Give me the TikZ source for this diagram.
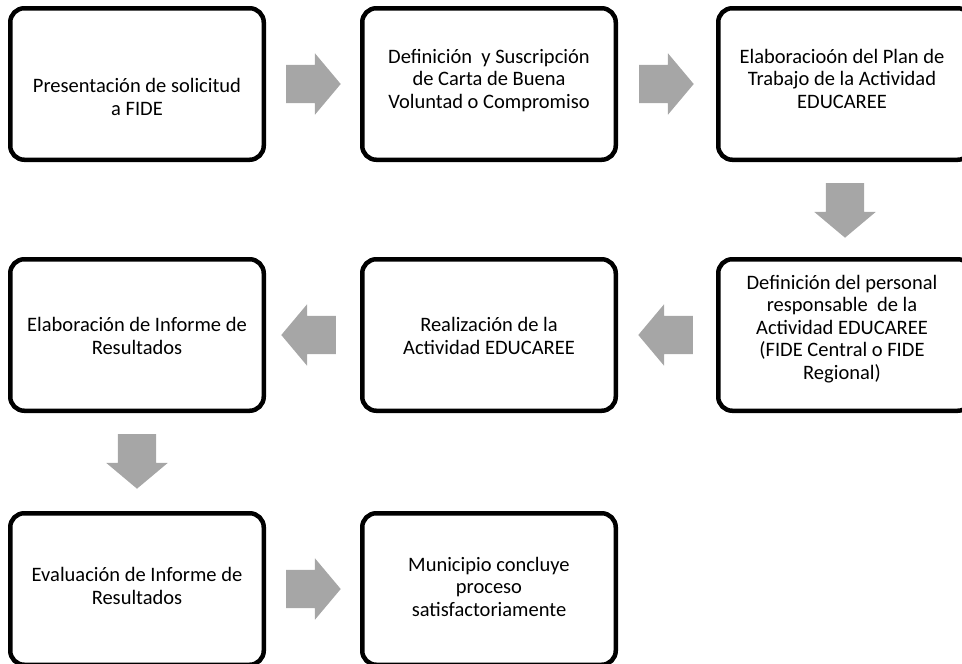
\documentclass[tikz,border=0pt]{standalone}
\usepackage{fontspec}
\setmainfont{Carlito}
\usetikzlibrary{shapes.arrows,calc}
\definecolor{arrgray}{HTML}{A6A6A6}
\tikzset{stepbox/.style={draw=black, line width=4.5pt, rounded corners=14pt, fill=white, minimum width=253.5pt, minimum height=151.5pt, inner sep=0pt},
  txt/.style={font=\fontsize{20.5}{22.5}\selectfont, align=center, inner sep=0pt, anchor=base},
  blkarr/.style={single arrow, fill=arrgray, draw=none, inner sep=19pt, minimum height=53pt, minimum width=61pt, single arrow head extend=11.5pt, single arrow tip angle=100, shape border rotate=#1, anchor=tail},
  blkarr/.default=0}

\begin{document}
\begin{tikzpicture}[x=1pt,y=-1pt]
\useasboundingbox (0,0) rectangle (962,664);
% ---- row 1 ----
\node[stepbox] (b1) at (137,84) {};
\node[txt] (t1) at (137,115) {Presentación de solicitud\\a FIDE};
\node[stepbox] (b2) at (489,84) {};
\node[txt] (t2) at (489,108) {Definición~ y Suscripción\\de Carta de Buena\\Voluntad o Compromiso};
\node[stepbox] (b3) at (845,84) {};
\node[txt] (t3) at (842,108) {Elaboracioón del Plan de\\Trabajo de la Actividad\\EDUCAREE};
% ---- row 2 ----
\node[stepbox] (b4) at (845,335) {};
\node[txt] (t4) at (842,379) {Definición del personal\\responsable~ de la\\Actividad EDUCAREE\\(FIDE Central o FIDE\\Regional)};
\node[stepbox] (b5) at (489,335) {};
\node[txt] (t5) at (489,354) {Realización de la\\Actividad EDUCAREE};
\node[stepbox] (b6) at (137,335) {};
\node[txt] (t6) at (137,354) {Elaboración de Informe de\\Resultados};
% ---- row 3 ----
\node[stepbox] (b7) at (137,589) {};
\node[txt] (t7) at (137,604) {Evaluación de Informe de\\Resultados};
\node[stepbox] (b8) at (489,589) {};
\node[txt] (t8) at (489,616) {Municipio concluye\\proceso\\satisfactoriamente};
% ---- block arrows ----
\node[blkarr] (a1) at ([xshift=20pt]b1.east) {};
\node[blkarr] (a2) at ([xshift=21pt]b2.east) {};
\node[blkarr=270] (a3) at ([yshift=-21pt]b3.south) {};
\node[blkarr=180] (a4) at ([xshift=-23pt]b4.west) {};
\node[blkarr=180] (a5) at ([xshift=-24pt]b5.west) {};
\node[blkarr=270] (a6) at ([yshift=-21pt]b6.south) {};
\node[blkarr] (a7) at ([xshift=20pt]b7.east) {};
\end{tikzpicture}
\end{document}
